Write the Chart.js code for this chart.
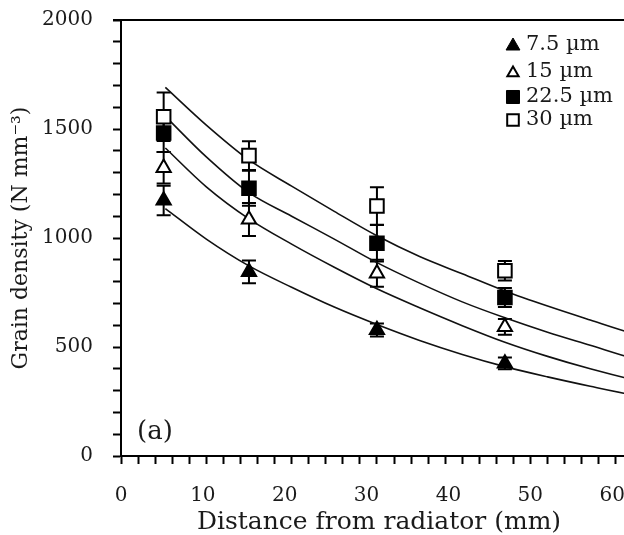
<!DOCTYPE html>
<html lang="en">
<head>
<meta charset="UTF-8">
<title>Grain density vs distance</title>
<script src="https://cdn.jsdelivr.net/npm/chart.js"></script>
<style>
  html, body { margin: 0; padding: 0; background: #fff; overflow: hidden; }
  #wrap { width: 624px; height: 535px; overflow: hidden; }
</style>
</head>
<body>
<div id="wrap"><canvas id="grainChart" width="672" height="535"></canvas></div>
<script>
// measured points (distance in mm)
const distances = [5, 15, 30, 45];
const sizeLabels = ['7.5 µm', '15 µm', '22.5 µm', '30 µm'];
const density75 = [1172, 845, 578, 425];
const density15 = [1322, 1085, 838, 592];
const density225 = [1482, 1228, 976, 727];
const density30 = [1556, 1378, 1147, 850];
const err75 = [68, 52, 30, 27];
const err15 = [72, 76, 62, 36];
const err225 = [88, 80, 84, 44];
const err30 = [111, 66, 86, 45];

// fitted curves
const fitX = [5.2, 10, 15, 20, 25, 30, 35, 40, 45, 50, 55, 60, 64];
const fit75 = [1135, 995, 872, 774, 683, 603, 530, 466, 410, 363, 320, 280, 255];
const fit15 = [1413, 1235, 1088, 972, 866, 767, 680, 598, 522, 457, 400, 350, 316];
const fit225 = [1558, 1372, 1208, 1100, 995, 887, 793, 707, 634, 568, 508, 448, 410];
const fit30 = [1691, 1518, 1358, 1238, 1122, 1010, 915, 836, 757, 688, 624, 562, 522];

const yLabelStep = 500;
const xLabelStep = 10;
const xTitle = 'Distance from radiator (mm)';

const serif = 'DejaVu Serif';
const ink = '#1a1a1a';

function pts(xs, ys) {
  return xs.map((x, i) => ({ x: x, y: ys[i] }));
}

function markerSet(label, ys, errs, style, filled) {
  return {
    label: label,
    data: pts(distances, ys),
    errors: errs,
    showLine: false,
    pointStyle: style,
    pointRadius: style === 'triangle' ? 8.2 : 9.6,
    pointBorderWidth: 2,
    pointBorderColor: '#000',
    pointBackgroundColor: filled ? '#000' : '#fff',
    isMarker: true,
    filled: filled
  };
}

function fitSet(ys) {
  return {
    label: '',
    data: pts(fitX, ys),
    showLine: true,
    borderColor: '#111',
    borderWidth: 1.6,
    pointRadius: 0,
    cubicInterpolationMode: 'monotone',
    fill: false
  };
}

const errorBars = {
  id: 'errorBars',
  beforeDatasetsDraw(chart) {
    const ctx = chart.ctx;
    const xs = chart.scales.x, ys = chart.scales.y;
    ctx.save();
    ctx.strokeStyle = '#000';
    ctx.lineWidth = 2;
    chart.data.datasets.forEach(ds => {
      if (!ds.errors) return;
      ds.data.forEach((p, i) => {
        const px = xs.getPixelForValue(p.x);
        const top = ys.getPixelForValue(p.y + ds.errors[i]);
        const bot = ys.getPixelForValue(p.y - ds.errors[i]);
        ctx.beginPath();
        ctx.moveTo(px, top); ctx.lineTo(px, bot);
        ctx.moveTo(px - 7, top); ctx.lineTo(px + 7, top);
        ctx.moveTo(px - 7, bot); ctx.lineTo(px + 7, bot);
        ctx.stroke();
      });
    });
    ctx.restore();
  }
};

function drawShape(ctx, style, filled, cx, cy, r) {
  ctx.beginPath();
  if (style === 'triangle') {
    ctx.moveTo(cx, cy - r);
    ctx.lineTo(cx + r * 0.866, cy + r * 0.5);
    ctx.lineTo(cx - r * 0.866, cy + r * 0.5);
    ctx.closePath();
  } else {
    const h = r * Math.SQRT1_2;
    ctx.rect(cx - h, cy - h, 2 * h, 2 * h);
  }
  ctx.fillStyle = filled ? '#000' : '#fff';
  ctx.fill();
  ctx.lineWidth = filled ? 1 : 2;
  ctx.strokeStyle = '#000';
  ctx.stroke();
}

const extras = {
  id: 'extras',
  afterDraw(chart) {
    const ctx = chart.ctx;
    const a = chart.chartArea;
    ctx.save();
    // top frame line
    ctx.strokeStyle = '#000';
    ctx.lineWidth = 2;
    ctx.beginPath();
    ctx.moveTo(a.left - 8, a.top);
    ctx.lineTo(a.right, a.top);
    ctx.stroke();

    ctx.fillStyle = ink;
    ctx.textBaseline = 'middle';

    // x axis title (sits a little left of the plot centre)
    ctx.font = '25px "' + serif + '"';
    ctx.textAlign = 'center';
    ctx.fillText(xTitle, a.left + 258, a.bottom + 66);

    // panel letter
    ctx.font = '26px "' + serif + '"';
    ctx.textAlign = 'left';
    ctx.fillText('(a)', a.left + 16, a.bottom - 24);

    // legend
    const rows = [25, 52, 77, 100];
    const markers = chart.data.datasets.filter(d => d.isMarker);
    ctx.font = '21px "' + serif + '"';
    markers.forEach((d, i) => {
      const cy = a.top + rows[i];
      const r = d.pointStyle === 'triangle' ? (d.filled ? 8 : 6.5) : (d.filled ? 9.2 : 8.2);
      drawShape(ctx, d.pointStyle, d.filled, a.left + 392, cy + (d.pointStyle === 'triangle' ? 1 : 0), r);
      ctx.fillStyle = ink;
      ctx.fillText(d.label, a.left + 405, cy);
    });
    ctx.restore();
  }
};

new Chart(document.getElementById('grainChart'), {
  type: 'scatter',
  data: {
    datasets: [
      markerSet(sizeLabels[0], density75, err75, 'triangle', true),
      markerSet(sizeLabels[1], density15, err15, 'triangle', false),
      markerSet(sizeLabels[2], density225, err225, 'rect', true),
      markerSet(sizeLabels[3], density30, err30, 'rect', false),
      fitSet(fit75),
      fitSet(fit15),
      fitSet(fit225),
      fitSet(fit30)
    ]
  },
  options: {
    responsive: false,
    animation: false,
    layout: { autoPadding: false, padding: { top: 20, right: 5, left: 0, bottom: 0 } },
    plugins: { legend: { display: false }, tooltip: { enabled: false } },
    scales: {
      x: {
        type: 'linear', min: 0, max: 64, position: 'bottom',
        afterFit: s => { s.height = 8; },
        border: { color: '#000', width: 2 },
        grid: { drawOnChartArea: false, tickLength: 8, tickWidth: 2, tickColor: '#000' },
        ticks: { display: false, stepSize: 2, autoSkip: false, includeBounds: false }
      },
      xl: {
        type: 'linear', min: 0, max: 66.7, position: 'bottom',
        afterFit: s => { s.height = 71; },
        border: { display: false },
        grid: { display: false },
        ticks: {
          stepSize: xLabelStep, autoSkip: false, includeBounds: false, padding: 12, color: ink,
          font: { family: serif, size: 20 },
          callback: v => (v % xLabelStep === 0 ? v : '')
        }
      },
      y: {
        min: 0, max: 2000,
        afterFit: s => { s.width = 121; s.paddingTop = 0; s.paddingBottom = 0; },
        border: { color: '#000', width: 2 },
        grid: { drawOnChartArea: false, tickLength: 8, tickWidth: 2, tickColor: '#000' },
        ticks: {
          stepSize: 100, autoSkip: false, padding: 20, color: ink,
          font: { family: serif, size: 20 },
          callback: v => (v % yLabelStep === 0 ? v : '')
        },
        title: {
          display: true, text: 'Grain density (N mm⁻³)', color: ink,
          font: { family: serif, size: 22 }, padding: { top: 8, bottom: 0 }
        }
      }
    }
  },
  plugins: [errorBars, extras]
});
</script>
</body>
</html>
